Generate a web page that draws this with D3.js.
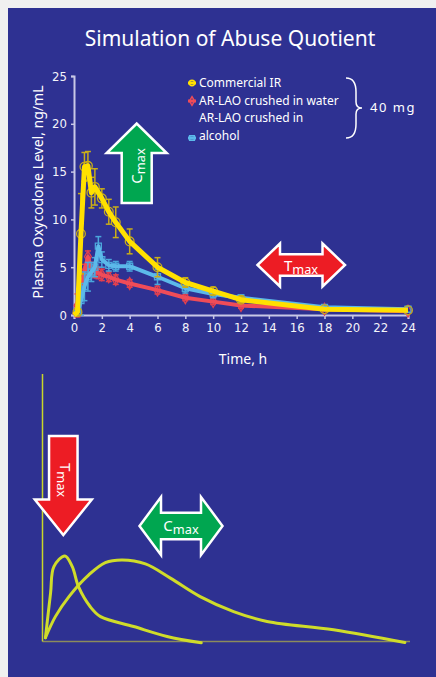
<!DOCTYPE html>
<html>
<head>
<meta charset="utf-8">
<script src="https://cdn.jsdelivr.net/npm/d3@7/dist/d3.min.js"></script>
<style>
    body { margin: 0; background: #f0f0f0; }
    svg { display: block; }
    .tick text { font-family: "DejaVu Sans Condensed", "Liberation Sans Narrow", sans-serif; font-stretch: condensed; }
</style>
</head>
<body>
<div id="chart"></div>
<script>
// top chart: simulated plasma levels
var xTicks = [0, 2, 4, 6, 8, 10, 12, 14, 16, 18, 20, 22, 24];
var yTicks = [0, 5, 10, 15, 20, 25];

var irTimes = [0, 0.25, 0.5, 0.75, 1, 1.25, 1.5, 2, 2.5, 3, 4, 6, 8, 10, 12, 18, 24];
var irValues = [0, 0.3, 8.5, 15.5, 15.6, 12.8, 13.4, 12.2, 10.8, 9.7, 7.7, 5.0, 3.4, 2.5, 1.6, 0.6, 0.5];
var irErrors = [0, 0.3, 4.2, 1.5, 1.5, 1.6, 1.9, 1.0, 1.3, 1.6, 1.3, 1.0, 0.5, 0.4, 0.3, 0.2, 0.2];

var waterTimes = [0, 0.25, 0.5, 0.75, 1, 1.25, 1.5, 1.75, 2, 2.5, 3, 4, 6, 8, 10, 12, 18, 24];
var waterValues = [0, 1.0, 2.8, 4.5, 6.1, 4.8, 4.5, 4.4, 4.2, 4.0, 3.7, 3.3, 2.6, 1.8, 1.4, 1.0, 0.6, 0.4];
var waterErrors = [0, 1.2, 0.8, 0.8, 0.6, 0.7, 0.6, 0.6, 0.6, 0.5, 0.5, 0.4, 0.4, 0.3, 0.3, 0.3, 0.2, 0.1];

var alcoholTimes = [0, 0.25, 0.5, 0.75, 1, 1.25, 1.5, 1.75, 2, 2.5, 3, 4, 6, 8, 10, 12, 18, 24];
var alcoholValues = [0, 0.3, 1.5, 3.0, 4.0, 4.5, 5.0, 7.2, 5.8, 5.2, 5.1, 5.1, 4.0, 2.8, 2.2, 1.8, 0.8, 0.6];
var alcoholErrors = [0, 0.3, 1.5, 1.5, 1.5, 1.0, 1.0, 1.0, 0.8, 0.6, 0.5, 0.5, 0.8, 0.5, 0.4, 0.3, 0.2, 0.2];

var legendLabels = [["Commercial IR"], ["AR-LAO crushed in water"], ["AR-LAO crushed in", "alcohol"]];

// bottom sketch: fast vs slow release profiles (arbitrary units)
var fastTimes = [0.8, 2.2, 3.1, 6.1, 8.1, 9.8, 13, 15.8, 24.8, 33.9, 43.2];
var fastLevels = [1.4, 18.2, 28, 32, 28, 20.5, 13, 9.3, 5.6, 1.9, -0.5];
var slowTimes = [0.8, 3.5, 7.2, 12.6, 17.1, 21.7, 28, 34.8, 42.9, 52, 61.1, 79.2, 98.6];
var slowLevels = [1.4, 9.3, 16.8, 24.9, 29.5, 30.5, 29, 23.7, 16.8, 11.2, 7.5, 4.4, -0.4];

var W = 436, H = 677;
var fontMain = "'Noto Sans', 'DejaVu Sans', sans-serif";

var svg = d3.select("#chart").append("svg").attr("width", W).attr("height", H);

svg.append("rect").attr("width", W).attr("height", H).attr("fill", "#f0f0f0");
svg.append("rect").attr("x", 8).attr("y", 8).attr("width", W - 8).attr("height", H - 8).attr("fill", "#2e3192");

svg.append("text").attr("x", 230).attr("y", 46).attr("text-anchor", "middle")
    .attr("fill", "#ffffff").attr("font-family", fontMain).attr("font-size", 21)
    .text("Simulation of Abuse Quotient");

// scales
var x = d3.scaleLinear().domain([0, 24]).range([74, 408]);
var y = d3.scaleLinear().domain([0, 25]).range([315, 76]);

// axes
var axisColor = "#c8c8e6";
var xAxis = svg.append("g").attr("transform", "translate(0," + y(0) + ")")
    .call(d3.axisBottom(x).tickValues(xTicks).tickSize(4).tickPadding(4));
var yAxis = svg.append("g").attr("transform", "translate(" + x(0) + ",0)")
    .call(d3.axisLeft(y).tickValues(yTicks).tickSize(3).tickPadding(4));
[xAxis, yAxis].forEach(function (a) {
    a.select(".domain").attr("stroke", axisColor).attr("stroke-width", 2);
    a.selectAll(".tick line").attr("stroke", axisColor).attr("stroke-width", 1.5);
    a.selectAll(".tick text").attr("fill", "#f4f4fa").attr("font-size", 13);
});

svg.append("text").attr("x", 243).attr("y", 364).attr("text-anchor", "middle")
    .attr("fill", "#ffffff").attr("font-family", fontMain).attr("font-size", 14)
    .text("Time, h");
svg.append("text").attr("transform", "translate(43,192) rotate(-90)").attr("text-anchor", "middle")
    .attr("fill", "#ffffff").attr("font-family", fontMain).attr("font-size", 14)
    .text("Plasma Oxycodone Level, ng/mL");

// arrow helpers (annotation shapes, pixel units)
function vArrow(cx, tail, tip, headLen, headW, shaftW) {
    var d = tip > tail ? 1 : -1;
    var hb = tip - d * headLen;
    return [[cx - shaftW / 2, tail], [cx - shaftW / 2, hb], [cx - headW / 2, hb], [cx, tip],
        [cx + headW / 2, hb], [cx + shaftW / 2, hb], [cx + shaftW / 2, tail]];
}
function hDoubleArrow(cy, left, right, headLen, headH, shaftH) {
    return [[left, cy], [left + headLen, cy - headH / 2], [left + headLen, cy - shaftH / 2],
        [right - headLen, cy - shaftH / 2], [right - headLen, cy - headH / 2], [right, cy],
        [right - headLen, cy + headH / 2], [right - headLen, cy + shaftH / 2],
        [left + headLen, cy + shaftH / 2], [left + headLen, cy + headH / 2]];
}
function drawArrow(pts, fill) {
    svg.append("path").attr("d", d3.line()(pts) + "Z").attr("fill", fill)
        .attr("stroke", "#ffffff").attr("stroke-width", 2.5).attr("stroke-linejoin", "miter");
}
function subLabel(g, main, sub, size) {
    var t = g.append("text").attr("fill", "#ffffff").attr("font-family", fontMain).attr("text-anchor", "middle");
    t.append("tspan").attr("font-size", size).text(main);
    t.append("tspan").attr("font-size", size * 0.85).attr("dy", size * 0.18).text(sub);
    return t;
}

drawArrow(vArrow(136.7, 203, 123.5, 29.5, 60, 30), "#00a650");
subLabel(svg.append("g").attr("transform", "translate(142,166) rotate(-90)"), "C", "max", 15);

drawArrow(hDoubleArrow(265, 257.5, 345, 22.5, 43, 21.5), "#ed1c24");
subLabel(svg.append("g").attr("transform", "translate(301,271)"), "T", "max", 15);

// series
var series = [
    { times: waterTimes, values: waterValues, errors: waterErrors, color: "#ef4c58", bar: "#e2404e", marker: d3.symbolDiamond, size: 40, width: 4 },
    { times: alcoholTimes, values: alcoholValues, errors: alcoholErrors, color: "#5cb9ea", bar: "#4aa6dc", marker: d3.symbolSquare, size: 36, width: 4 },
    { times: irTimes, values: irValues, errors: irErrors, color: "#ffe000", bar: "#c9ad18", marker: d3.symbolCircle, size: 60, width: 5 }
];

var line = d3.line().x(function (d) { return x(d.t); }).y(function (d) { return y(d.v); });

series.forEach(function (s) {
    var pts = s.times.map(function (t, i) { return { t: t, v: s.values[i], e: s.errors[i] }; });
    var g = svg.append("g");

    // error bars
    var eb = g.selectAll(".eb").data(pts.filter(function (d) { return d.e > 0.25; })).enter().append("g");
    eb.append("line").attr("x1", function (d) { return x(d.t); }).attr("x2", function (d) { return x(d.t); })
        .attr("y1", function (d) { return y(d.v - d.e); }).attr("y2", function (d) { return y(d.v + d.e); })
        .attr("stroke", s.bar).attr("stroke-width", 1.5);
    [-1, 1].forEach(function (k) {
        eb.append("line").attr("x1", function (d) { return x(d.t) - 3; }).attr("x2", function (d) { return x(d.t) + 3; })
            .attr("y1", function (d) { return y(d.v + k * d.e); }).attr("y2", function (d) { return y(d.v + k * d.e); })
            .attr("stroke", s.bar).attr("stroke-width", 1.5);
    });

    // markers
    g.selectAll(".mk").data(pts.slice(1)).enter().append("path")
        .attr("d", d3.symbol().type(s.marker).size(s.size))
        .attr("transform", function (d) { return "translate(" + x(d.t) + "," + y(d.v) + ")"; })
        .attr("fill", "none").attr("stroke", s.bar).attr("stroke-width", 1.3);

    g.append("path").datum(pts).attr("d", line).attr("fill", "none")
        .attr("stroke", s.color).attr("stroke-width", s.width).attr("stroke-linejoin", "round");
});

// legend
var legendColors = ["#ffe000", "#ef4c58", "#5cb9ea"];
var legendMarks = [d3.symbolCircle, d3.symbolDiamond, d3.symbolSquare];
var legendY = [87, 105, 122];
legendLabels.forEach(function (lines, i) {
    var ty = legendY[i];
    var my = lines.length > 1 ? ty + 16 : ty - 4;
    svg.append("line").attr("x1", 188).attr("x2", 196).attr("y1", my).attr("y2", my)
        .attr("stroke", legendColors[i]).attr("stroke-width", 3);
    svg.append("path").attr("d", d3.symbol().type(legendMarks[i]).size(22))
        .attr("transform", "translate(192," + my + ")")
        .attr("fill", "none").attr("stroke", legendColors[i]).attr("stroke-width", 1.5);
    lines.forEach(function (l, j) {
        svg.append("text").attr("x", 199).attr("y", ty + j * 18).attr("fill", "#ffffff")
            .attr("font-family", fontMain).attr("font-size", 12).text(l);
    });
});
svg.append("path").attr("d", "M346,78 Q356,78 356,92 L356,102 Q356,108 362,108 Q356,108 356,114 L356,124 Q356,138 346,138")
    .attr("fill", "none").attr("stroke", "#ffffff").attr("stroke-width", 1.5);
svg.append("text").attr("x", 370).attr("y", 112).attr("fill", "#ffffff")
    .attr("font-family", fontMain).attr("font-size", 13).attr("letter-spacing", 1.5).text("40 mg");

// bottom sketch
var bx = d3.scaleLinear().domain([0, 100]).range([42.5, 410]);
var by = d3.scaleLinear().domain([0, 100]).range([641.5, 374]);

svg.append("line").attr("x1", bx(0)).attr("x2", bx(100)).attr("y1", by(0)).attr("y2", by(0))
    .attr("stroke", "#8c8c5c").attr("stroke-width", 1.5);
svg.append("line").attr("x1", bx(0)).attr("x2", bx(0)).attr("y1", by(0)).attr("y2", by(100))
    .attr("stroke", "#c8d62a").attr("stroke-width", 1.5);

var curve = d3.line().x(function (d) { return bx(d[0]); }).y(function (d) { return by(d[1]); }).curve(d3.curveCatmullRom);
[[fastTimes, fastLevels], [slowTimes, slowLevels]].forEach(function (c) {
    svg.append("path").datum(d3.zip(c[0], c[1])).attr("d", curve)
        .attr("fill", "none").attr("stroke", "#cfdc2a").attr("stroke-width", 3).attr("stroke-linecap", "round");
});

drawArrow(vArrow(63.3, 436, 535, 35.5, 57, 28.5), "#ed1c24");
subLabel(svg.append("g").attr("transform", "translate(60,480) rotate(90)"), "T", "max", 15);

drawArrow(hDoubleArrow(526, 139.5, 222.5, 21.5, 58, 26.5), "#00a650");
subLabel(svg.append("g").attr("transform", "translate(181,531)"), "C", "max", 15);
</script>
</body>
</html>
